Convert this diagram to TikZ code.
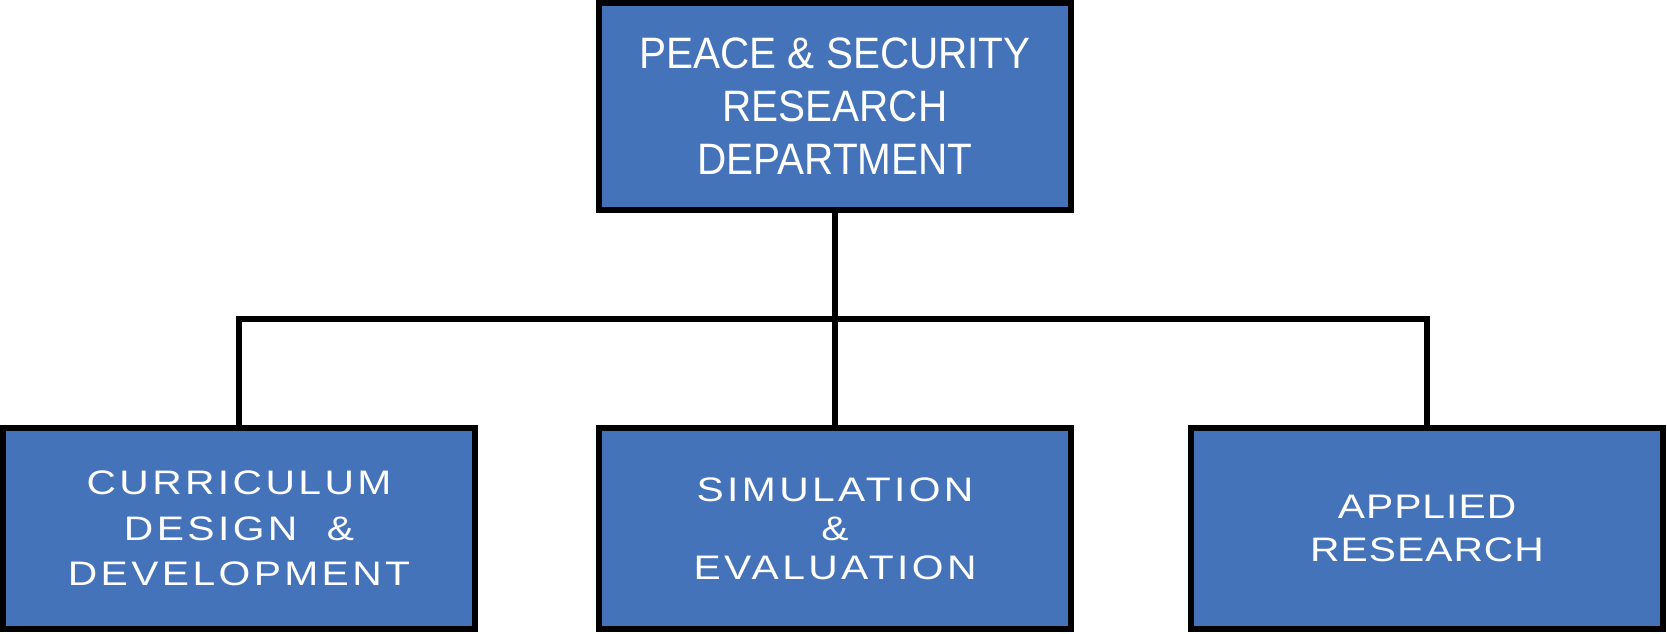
\documentclass[tikz,border=0pt]{standalone}
\usepackage{fontspec}
\setmainfont{Liberation Sans}
\newfontfamily\topfont[FakeStretch=0.92]{Liberation Sans}
\newfontfamily\spacedfont[FakeStretch=1.2,LetterSpace=10]{Liberation Sans}
\newfontfamily\lessspacedfont[FakeStretch=1.2,LetterSpace=3]{Liberation Sans}
\definecolor{boxblue}{HTML}{4473B9}
\begin{document}
\begin{tikzpicture}[x=1pt,y=-1pt,
  orgbox/.style={draw=black, line width=6pt, fill=boxblue, rectangle, inner sep=0pt,
    text=white, align=center},
  topbox/.style={orgbox, minimum width=472pt, minimum height=207pt,
    font=\topfont\fontsize{44}{53}\selectfont},
  subbox/.style={orgbox, minimum width=472pt, minimum height=201pt},
  link/.style={draw=black, line width=6pt}]
\useasboundingbox (0,0) rectangle (1667,633);
\node[topbox] (top) at (835,106.5) {PEACE \& SECURITY\\RESEARCH\\DEPARTMENT};
\node[subbox, font=\spacedfont\fontsize{34}{45.5}\selectfont] (cdd) at (239,528.5)
  {CURRICULUM\\DESIGN~~\&\\DEVELOPMENT};
\node[subbox, font=\spacedfont\fontsize{34}{39}\selectfont] (sim) at (835,528.5)
  {SIMULATION\\\&\\EVALUATION};
\node[subbox, font=\lessspacedfont\fontsize{34}{43}\selectfont] (app) at (1427,528.5)
  {APPLIED\\RESEARCH};
\coordinate (bus) at (835,319);
\draw[link] (top.south) -- (top.south |- bus);
\draw[link, line cap=rect] (cdd.north |- bus) -- (app.north |- bus);
\draw[link] (cdd.north |- bus) -- (cdd.north);
\draw[link] (sim.north |- bus) -- (sim.north);
\draw[link] (app.north |- bus) -- (app.north);
\end{tikzpicture}
\end{document}
